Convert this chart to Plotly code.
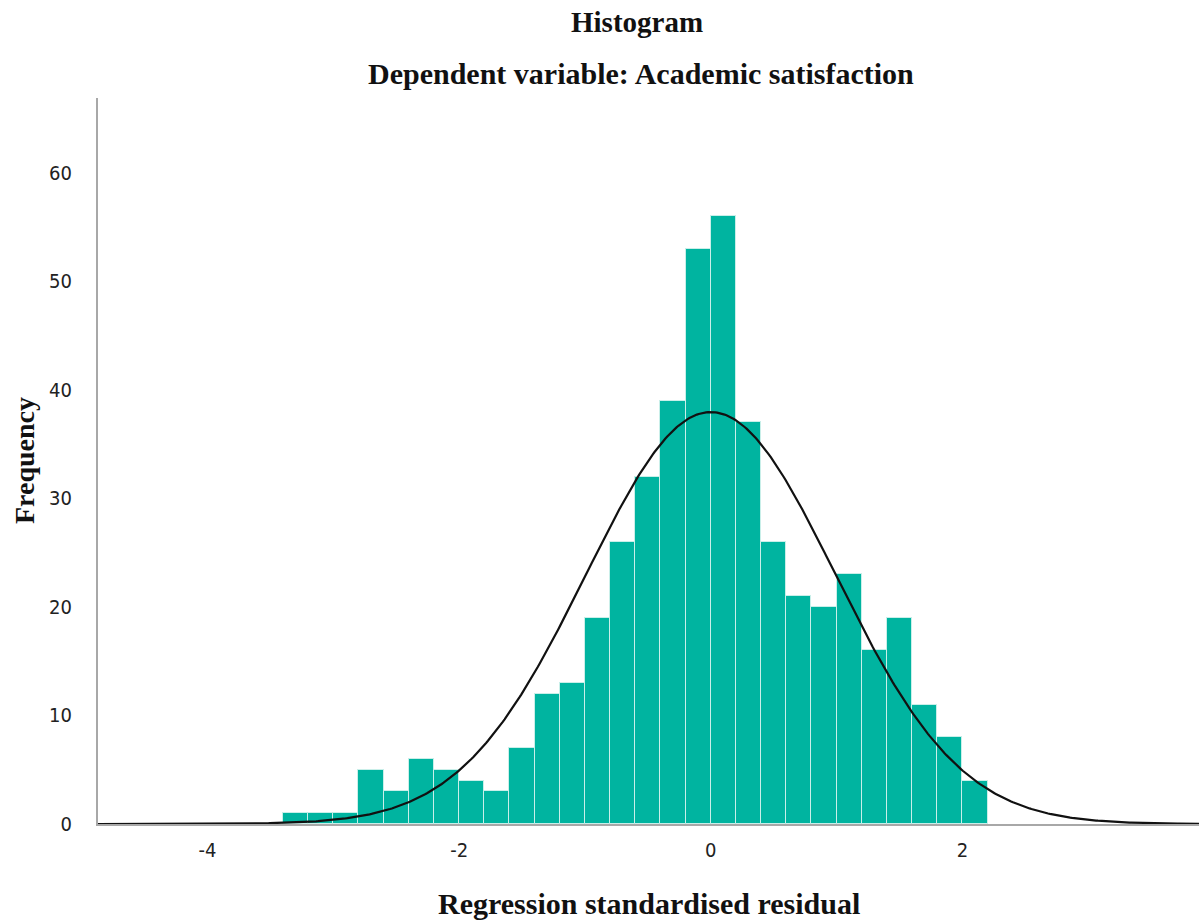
import numpy as np
import plotly.graph_objects as go

# Data
bin_start = -3.4
bin_width = 0.2
counts = [1, 1, 1, 5, 3, 6, 5, 4, 3, 7, 12, 13, 19, 26, 32, 39, 53, 56,
          37, 26, 21, 20, 23, 16, 19, 11, 8, 4]
x_ticks = [-4, -2, 0, 2]
y_ticks = [0, 10, 20, 30, 40, 50, 60]

# Normal curve parameters
mean = 0.0
std_dev = 0.99
n_total = sum(counts)

centers = [bin_start + bin_width * (i + 0.5) for i in range(len(counts))]

xs = np.linspace(-4.9, 3.9, 600)
ys = n_total * bin_width / (std_dev * np.sqrt(2 * np.pi)) * np.exp(-0.5 * ((xs - mean) / std_dev) ** 2)

fig = go.Figure()
fig.add_trace(go.Bar(
    x=centers, y=counts, width=bin_width,
    marker=dict(color="#00B4A0", line=dict(color="#c9efe9", width=1)),
    hoverinfo="x+y", showlegend=False,
))
fig.add_trace(go.Scatter(
    x=xs, y=ys, mode="lines",
    line=dict(color="#111111", width=2.2),
    showlegend=False, hoverinfo="skip",
))

serif = "Liberation Serif, Times New Roman, serif"
tickfont = dict(family="Liberation Sans Narrow, Arial Narrow, DejaVu Sans Condensed, sans-serif", size=20, color="#222222")

fig.update_layout(
    width=1199, height=923,
    margin=dict(l=98, r=0, t=98, b=99),
    paper_bgcolor="white", plot_bgcolor="white",
    bargap=0,
    xaxis=dict(
        range=[-4.87, 3.88], tickvals=x_ticks, ticktext=[str(v) for v in x_ticks],
        showgrid=False, zeroline=False, showline=True, linecolor="#a8a8a8", linewidth=2,
        ticks="", tickfont=tickfont, ticklabelstandoff=7,
    ),
    yaxis=dict(
        range=[0, 66.9], tickvals=y_ticks, ticktext=[str(v) for v in y_ticks],
        showgrid=False, zeroline=False, showline=True, linecolor="#a8a8a8", linewidth=2,
        ticks="", tickfont=tickfont, ticklabelstandoff=20,
    ),
    annotations=[
        dict(text="<b>Histogram</b>", xref="paper", yref="paper", x=0.49, y=1,
             yshift=98 - 22, showarrow=False, yanchor="middle",
             font=dict(family=serif, size=29, color="#111111")),
        dict(text="<b>Dependent variable: Academic satisfaction</b>", xref="paper", yref="paper", x=0.493, y=1,
             yshift=98 - 73, showarrow=False, yanchor="middle",
             font=dict(family=serif, size=30, color="#111111")),
        dict(text="<b>Regression standardised residual</b>", xref="paper", yref="paper", x=0.5, y=0,
             yshift=-(903 - 824), showarrow=False, yanchor="middle",
             font=dict(family=serif, size=30, color="#111111")),
        dict(text="<b>Frequency</b>", xref="paper", yref="paper", x=0, y=0.5,
             xshift=-(98 - 24), showarrow=False, xanchor="center", textangle=-90,
             font=dict(family=serif, size=28, color="#111111")),
    ],
)

fig.write_html("out.html")
